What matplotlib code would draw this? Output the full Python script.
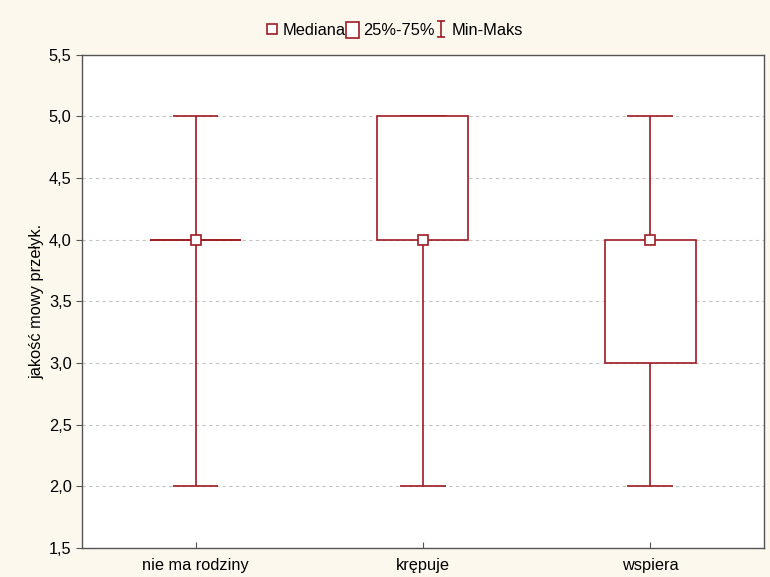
import matplotlib.pyplot as plt
import numpy as np
from matplotlib.lines import Line2D
from matplotlib.patches import Patch
from matplotlib.path import Path
from matplotlib.ticker import FuncFormatter

plt.rcParams['font.family'] = ['Liberation Sans', 'DejaVu Sans']

# Box plot summary per group
groups = ['nie ma rodziny', 'krępuje', 'wspiera']
medians = [4.0, 4.0, 4.0]
q25 = [4.0, 4.0, 3.0]
q75 = [4.0, 5.0, 4.0]
mins = [2.0, 2.0, 2.0]
maxs = [5.0, 5.0, 5.0]

red = '#9e1b22'
box_w = 0.40
cap_w = 0.20
fs = 11.8

fig = plt.figure(figsize=(7.7, 5.77), dpi=100, facecolor='#fdf8ee')
ax = fig.add_axes([0.1065, 0.050, 0.8855, 0.855])
ax.set_facecolor('white')

x = np.arange(len(groups))

# whiskers (min to max) behind the boxes
ax.vlines(x, mins, maxs, color=red, lw=1.2, zorder=2)
ax.hlines(mins, x - cap_w / 2, x + cap_w / 2, color=red, lw=1.2, zorder=2)
ax.hlines(maxs, x - cap_w / 2, x + cap_w / 2, color=red, lw=1.2, zorder=2)

# quartile boxes
heights = np.array(q75) - np.array(q25)
ax.bar(x, heights, box_w, bottom=q25, facecolor='white', edgecolor=red,
       lw=1.2, zorder=3)
for xi, lo, hi in zip(x, q25, q75):
    if hi == lo:
        ax.hlines(lo, xi - box_w / 2, xi + box_w / 2, color=red, lw=1.2, zorder=3)

# medians
ax.plot(x, medians, ls='none', marker='s', ms=6.5, mfc='white', mec=red,
        mew=1.2, zorder=4)

ax.set_xlim(-0.5, 2.5)
ax.set_ylim(1.5, 5.5)
ax.set_xticks(x)
ax.set_xticklabels(groups, fontsize=fs)
ax.set_yticks(np.arange(1.5, 5.51, 0.5))
ax.yaxis.set_major_formatter(FuncFormatter(lambda v, p: f'{v:.1f}'.replace('.', ',')))
ax.tick_params(axis='y', direction='out', length=4, labelsize=fs, color='#555555')
ax.tick_params(axis='x', direction='in', length=4, labelsize=fs, pad=7, color='#555555')
ax.set_ylabel('jakość mowy przełyk.', fontsize=fs, labelpad=3)
ax.yaxis.grid(True, color='#c4c4c4', ls=(0, (3, 3)), lw=0.8)
ax.set_axisbelow(True)
for s in ax.spines.values():
    s.set_color('#555555')
    s.set_linewidth(1.0)

# legend: median square, quartile box, min-max I-beam
ibeam = Path([(-0.5, 1), (0.5, 1), (0, 1), (0, -1), (-0.5, -1), (0.5, -1)],
             [Path.MOVETO, Path.LINETO, Path.MOVETO, Path.LINETO,
              Path.MOVETO, Path.LINETO])
handles = [
    Line2D([], [], ls='none', marker='s', ms=6.5, mfc='white', mec=red, mew=1.2),
    Patch(facecolor='white', edgecolor=red, lw=1.2),
    Line2D([], [], ls='none', marker=ibeam, ms=12, mfc='none', mec=red, mew=1.2),
]
fig.legend(handles, ['Mediana', '25%-75%', 'Min-Maks'], loc='center',
           bbox_to_anchor=(0.512, 0.948), ncol=3, frameon=False, fontsize=fs,
           handlelength=0.8, handleheight=1.2, handletextpad=0.25,
           columnspacing=0.0)

fig.savefig('out.png', dpi=100, facecolor=fig.get_facecolor())
